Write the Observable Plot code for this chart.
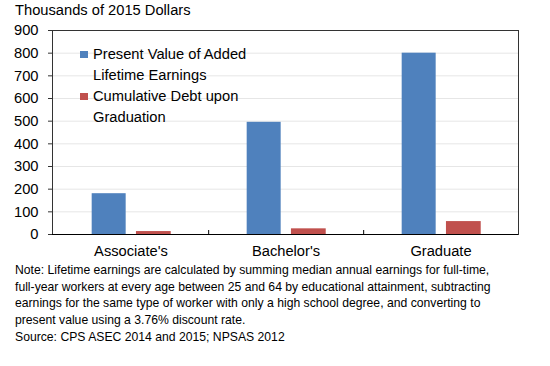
<!DOCTYPE html>
<html>
<head>
<meta charset="utf-8">
<script src="https://cdn.jsdelivr.net/npm/d3@7"></script>
<script src="https://cdn.jsdelivr.net/npm/@observablehq/plot@0.6"></script>
<style>
  html, body { margin: 0; padding: 0; background: #fff; }
  body { width: 550px; height: 366px; overflow: hidden; font-family: "Liberation Sans", Arial, sans-serif; color: #000; }
  #wrap { position: relative; width: 550px; }
  #title { height: 20px; line-height: 20px; font-size: 14.7px; padding-left: 15px; }
  #legend { position: absolute; left: 80px; top: 44px; font-size: 14.7px; line-height: 21px; }
  .item { position: relative; padding-left: 13px; }
  .sw { position: absolute; left: 0; top: 7px; width: 8px; height: 7px; }
  #note { font-size: 12.2px; line-height: 16.7px; padding-left: 15px; margin-top: 0; }
  svg { display: block; }
</style>
</head>
<body>
<div id="wrap">
  <div id="title"></div>
  <div id="chart"></div>
  <div id="legend"></div>
  <div id="note"></div>
</div>
<script>
const categories = ["Associate's", "Bachelor's", "Graduate"];
const addedEarnings = [180, 495, 800];
const cumulativeDebt = [13, 25, 57];
const seriesNames = ["Present Value of Added\nLifetime Earnings", "Cumulative Debt upon\nGraduation"];
const seriesColors = ["#4f81bd", "#c0504d"];
const yTicks = [0, 100, 200, 300, 400, 500, 600, 700, 800, 900];
const titleText = "Thousands of 2015 Dollars";
const noteLines = [
  "Note: Lifetime earnings are calculated by summing median annual earnings for full-time,",
  "full-year workers at every age between 25 and 64 by educational attainment, subtracting",
  "earnings for the same type of worker with only a high school degree, and converting to",
  "present value using a 3.76% discount rate.",
  "Source: CPS ASEC 2014 and 2015; NPSAS 2012"
];

const earningsData = categories.map((c, i) => ({category: c, value: addedEarnings[i]}));
const debtData = categories.map((c, i) => ({category: c, value: cumulativeDebt[i]}));

const W = 550, H = 242;
const mL = 52, mR = 32, mT = 10, mB = 28;
const band = (W - mL - mR) / categories.length;
const yMax = 900;
const tickLen = 4; // px, category separator ticks
const tickY2 = yMax * tickLen / (H - mT - mB);

const chart = Plot.plot({
  width: W,
  height: H,
  marginLeft: mL,
  marginRight: mR,
  marginTop: mT,
  marginBottom: mB,
  style: {fontFamily: "'Liberation Sans', Arial, sans-serif", fontSize: "14.7px", color: "#000", background: "#fff"},
  x: {domain: categories, padding: 0, label: null},
  y: {domain: [0, yMax], label: null},
  marks: [
    Plot.gridY(yTicks, {stroke: "#e6e6e6", strokeOpacity: 1}),
    Plot.barY(earningsData, {x: "category", y: "value", fill: seriesColors[0],
      insetLeft: band * 0.249, insetRight: band * 0.530}),
    Plot.barY(debtData, {x: "category", y: "value", fill: seriesColors[1],
      insetLeft: band * 0.534, insetRight: band * 0.240}),
    Plot.ruleX(categories.slice(0, -1), {x: d => d, y1: 0, y2: tickY2, dx: band / 2, stroke: "#000"}),
    Plot.axisY({ticks: yTicks, tickSize: 4, tickPadding: 10, stroke: "#333", fontSize: "14.7px", label: null}),
    Plot.axisX({tickSize: 0, tickPadding: 11, fontSize: "14.7px", label: null}),
    Plot.frame({stroke: "#333"}),
    Plot.ruleY([0], {stroke: "#000"})
  ]
});
document.getElementById("chart").appendChild(chart);

document.getElementById("title").textContent = titleText;

const legend = document.getElementById("legend");
seriesNames.forEach((name, i) => {
  const item = document.createElement("div");
  item.className = "item";
  const sw = document.createElement("span");
  sw.className = "sw";
  sw.style.background = seriesColors[i];
  item.appendChild(sw);
  name.split("\n").forEach(line => {
    const d = document.createElement("div");
    d.textContent = line;
    item.appendChild(d);
  });
  legend.appendChild(item);
});

const note = document.getElementById("note");
noteLines.forEach(l => {
  const d = document.createElement("div");
  d.textContent = l;
  note.appendChild(d);
});
</script>
</body>
</html>
